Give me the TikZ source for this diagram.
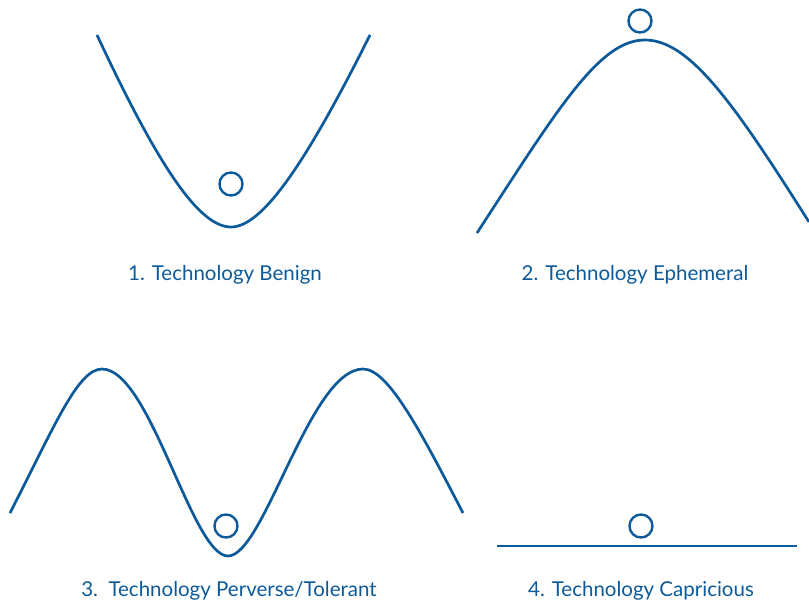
\documentclass[tikz,border=0pt]{standalone}
\usepackage{fontspec}
\setmainfont{Lato}
\definecolor{techblue}{HTML}{0D5A9A}
\begin{document}
\begin{tikzpicture}[x=1pt,y=-1pt,
    curve/.style={draw=techblue,line width=2.7pt},
    ball/.style={circle,draw=techblue,line width=2.4pt,minimum size=23pt,inner sep=0pt},
    caption/.style={text=techblue,font=\fontsize{20.5}{24}\selectfont}]
    \useasboundingbox (0,0) rectangle (809,608);
    % 1. benign
    \draw[curve] (97,35) .. controls (160,170) and (200,227) .. (231,227) .. controls (262,227) and (305,165) .. (370,35);
    \node[ball] (ball1) at (231,184) {};
    \node[caption] (cap1) at (225,275) {1. Technology Benign};
    % 2. ephemeral
    \draw[curve] (477,233) .. controls (560,105) and (600,40) .. (645,40) .. controls (690,40) and (735,105) .. (809,222);
    \node[ball] (ball2) at (640,21) {};
    \node[caption] (cap2) at (635,275) {2. Technology Ephemeral};
    % 3. perverse/tolerant
    \draw[curve] (10,513) .. controls (55,425) and (78,369) .. (102,369) .. controls (150,369) and (192,556) .. (228,556) .. controls (264,556) and (310,369) .. (363,369) .. controls (388,369) and (420,430) .. (463,513);
    \node[ball] (ball3) at (226,526) {};
    \node[caption] (cap3) at (229,591) {3.\ \ Technology Perverse/Tolerant};
    % 4. capricious
    \draw[curve] (497,546) -- (797,546);
    \node[ball] (ball4) at (641,526) {};
    \node[caption] (cap4) at (641,591) {4. Technology Capricious};
\end{tikzpicture}
\end{document}
